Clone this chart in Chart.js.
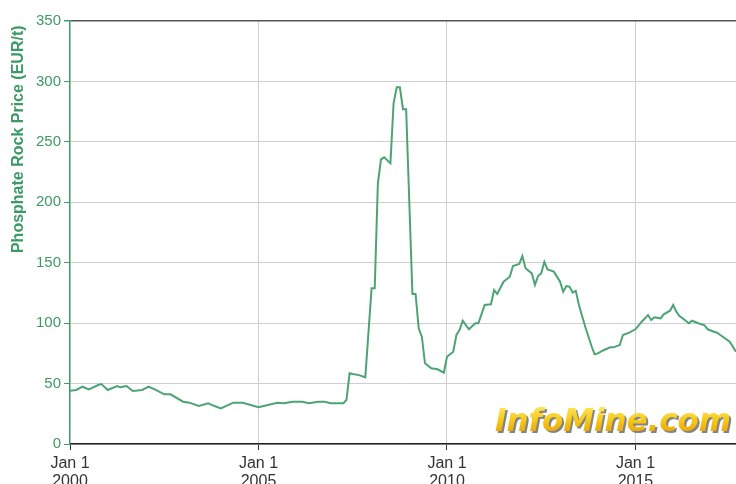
<!DOCTYPE html>
<html><head><meta charset="utf-8">
<script src="https://cdn.jsdelivr.net/npm/chart.js@4"></script>
<style>html,body{margin:0;padding:0;overflow:hidden;background:#fff}#wrap{width:736px;height:500px;position:relative}</style>
</head><body><div id="wrap"><canvas id="c"></canvas></div>
<script>
const months = [
 "2000-01","2000-03","2000-05","2000-07","2000-10","2000-11","2001-01","2001-04","2001-05","2001-07","2001-09","2001-12",
 "2002-02","2002-04","2002-07","2002-09","2003-01","2003-03","2003-06","2003-09","2003-11","2004-01","2004-05","2004-08",
 "2005-01","2005-04","2005-07","2005-09","2005-12","2006-03","2006-05","2006-08","2006-10","2006-12","2007-04","2007-05",
 "2007-06","2007-07","2007-09","2007-11","2008-01","2008-02","2008-03","2008-04","2008-05","2008-07","2008-08","2008-09",
 "2008-10","2008-11","2008-12","2009-02","2009-03","2009-04","2009-05","2009-06","2009-08","2009-10","2009-12","2010-01",
 "2010-03","2010-04","2010-05","2010-06","2010-08","2010-10","2010-11","2011-01","2011-03","2011-04","2011-05","2011-07",
 "2011-09","2011-10","2011-12","2012-01","2012-02","2012-04","2012-05","2012-06","2012-07","2012-08","2012-09","2012-11",
 "2013-01","2013-02","2013-03","2013-04","2013-05","2013-06","2013-07","2013-09","2013-11","2013-12","2014-01","2014-03",
 "2014-05","2014-06","2014-08","2014-09","2014-11","2015-01","2015-03","2015-05","2015-06","2015-07","2015-09","2015-10",
 "2015-12","2016-01","2016-02","2016-03","2016-04","2016-06","2016-07","2016-09","2016-11","2016-12","2017-02","2017-03",
 "2017-04","2017-07","2017-09","2017-10"
];
const prices = [
 44,44.7,47.4,45.2,48.8,49.6,44.7,48,46.9,48,43.9,44.7,
 47.4,45.2,41.1,41.1,35,34.2,31.4,33.7,31.4,29.5,34.2,34.2,
 30.4,32.3,34.2,33.7,35,35,33.7,35,35,33.7,33.7,36.4,
 58.5,57.9,57,55.2,128.8,128.8,215.7,235.5,237.2,232.2,281.9,295.1,
 295.1,277,277,124.1,124.1,95.7,88.8,66.8,62.6,61.8,59,72.2,
 76.4,90.2,94.3,102,94.9,99.9,99.9,115,115.6,127.4,124.1,134.3,
 138.4,147.3,148.9,155.6,145.4,141.2,131.6,139,141.2,150.8,144.5,142.6,
 134.3,126,130.7,130.2,125.2,126.8,115,97,81.1,74.2,75,77.8,
 80,80,81.9,90.2,92.1,94.9,101.2,106.7,102.6,104.8,104,107.3,
 110.3,115,109.5,105.9,104,99.9,102,99.9,98.2,94.9,92.9,92.1,
 90.2,84.6,76.4,69.5,67
];
const yTicks = [0,50,100,150,200,250,300,350];
const xTickYears = [2000,2005,2010,2015];
const xTickLabels = [["Jan 1","2000"],["Jan 1","2005"],["Jan 1","2010"],["Jan 1","2015"]];
const yTitle = "Phosphate Rock Price (EUR/t) ";
const watermark = "InfoMine.com";

function monthIndex(s){const p=s.split('-').map(Number);return (p[0]-2000)*12+(p[1]-1);}
const points = months.slice(0, prices.length).map((s,i)=>({x:monthIndex(s), y:prices[i]}));
const GREEN = '#3d9a66';

const watermarkPlugin = {
  id:'wm',
  afterDraw(chart){
    const ctx = chart.ctx;
    ctx.save();
    ctx.font = 'italic bold 32px "DejaVu Sans"';
    const w = ctx.measureText(watermark).width;
    const targetW = 236, x0 = 495, base = 431;
    ctx.translate(x0, base);
    ctx.scale(targetW / w, 1);
    ctx.textBaseline = 'alphabetic';
    ctx.fillStyle = 'rgba(110,110,110,0.85)';
    ctx.fillText(watermark, 2, 2);
    const g = ctx.createLinearGradient(0, -24, 0, 0);
    g.addColorStop(0, '#ffe45a');
    g.addColorStop(0.5, '#f7cc1c');
    g.addColorStop(1, '#eeaa08');
    ctx.fillStyle = g;
    ctx.fillText(watermark, 0, 0);
    ctx.restore();
  }
};

new Chart(document.getElementById('c'), {
  type:'line',
  data:{datasets:[{data:points, borderColor:'#4ca475', borderWidth:2, pointRadius:0, tension:0, fill:false}]},
  options:{
    responsive:true, maintainAspectRatio:false, animation:false,
    layout:{padding:{top:21,right:0,left:0,bottom:0}},
    plugins:{legend:{display:false}, tooltip:{enabled:false}},
    scales:{
      x:{
        type:'linear', min:0, max:212,
        afterBuildTicks:s=>{s.ticks = xTickYears.map(y=>({value:(y-2000)*12}));},
        afterFit:s=>{s.height = 56;},
        ticks:{
          autoSkip:false, maxRotation:0, padding:5, color:'#333',
          font:{family:'"Liberation Sans", Arial', size:16, lineHeight:1.1},
          callback:(v)=>{const i=xTickYears.indexOf(2000+v/12);return i>=0?xTickLabels[i]:'';}
        },
        grid:{color:c=>c.tick && c.tick.value===0?'rgba(0,0,0,0)':'#cfcfcf', tickColor:'#333', tickLength:6, lineWidth:1},
        border:{color:'#222', width:1.5}
      },
      y:{
        min:0, max:350,
        afterBuildTicks:s=>{s.ticks = yTicks.map(v=>({value:v}));},
        afterFit:s=>{s.width = 70;},
        ticks:{color:GREEN, padding:3, font:{family:'"Liberation Sans", Arial', size:15}},
        grid:{color:c=>c.tick && c.tick.value===350?'#555':'#cfcfcf', tickColor:GREEN, tickLength:6, lineWidth:c=>c.tick && c.tick.value===350?1.5:1},
        border:{color:GREEN, width:1.5},
        title:{display:true, text:yTitle, color:GREEN, align:'end', padding:{top:9,bottom:0}, font:{family:'"Liberation Sans", Arial', size:16, weight:'bold'}}
      }
    }
  },
  plugins:[watermarkPlugin]
});
</script></body></html>
